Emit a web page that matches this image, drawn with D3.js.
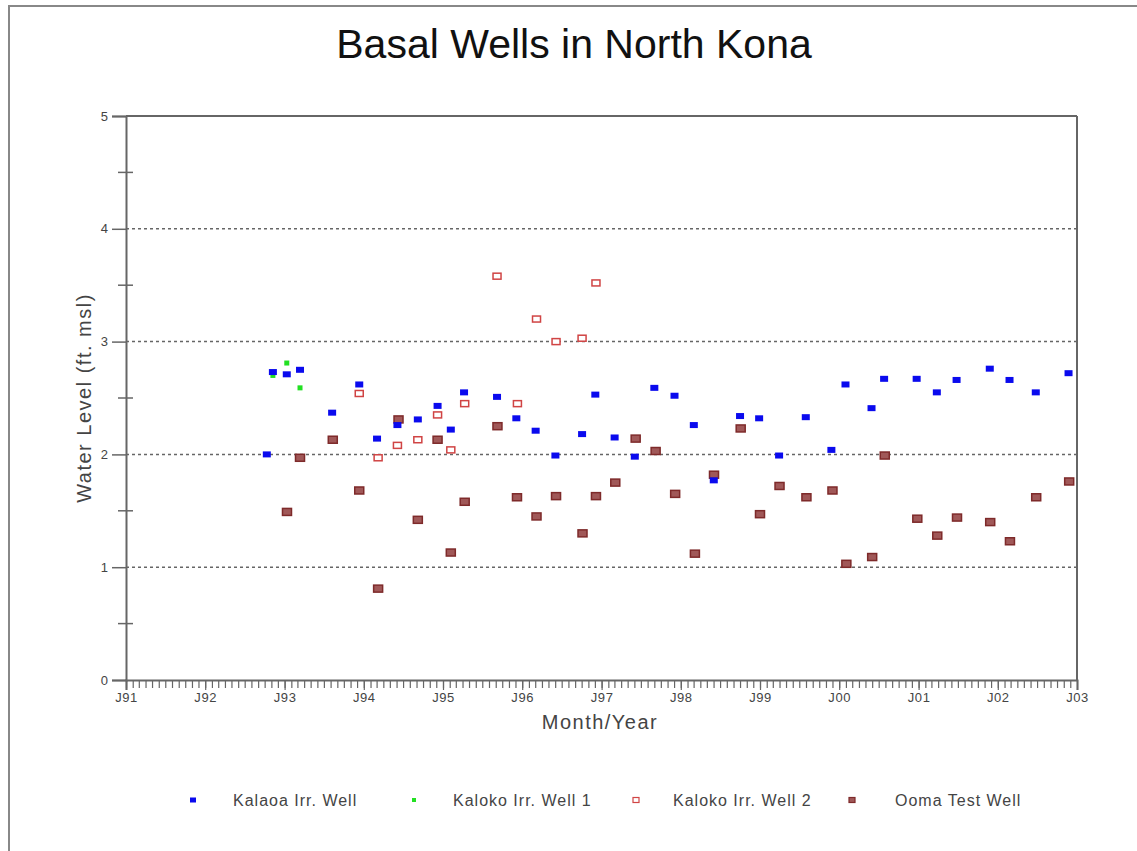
<!DOCTYPE html>
<html>
<head>
<meta charset="utf-8">
<script src="https://cdn.jsdelivr.net/npm/d3@7"></script>
<style>
  body { margin: 0; background: #fff; }
  svg { display: block; font-family: "Liberation Sans", Arial, sans-serif; }
</style>
</head>
<body>
<svg id="chart" width="1137" height="851"></svg>
<script>
// ---- data ----
const seriesNames = ["Kalaoa Irr. Well", "Kaloko Irr. Well 1", "Kaloko Irr. Well 2", "Ooma Test Well"];

const kalaoaDates = ["1992-10-11","1992-11-08","1993-01-11","1993-03-13","1993-08-08","1993-12-11","1994-03-03","1994-06-05","1994-09-07","1994-12-07","1995-02-06","1995-04-08","1995-09-07","1995-12-05","1996-03-03","1996-06-02","1996-10-03","1996-12-03","1997-03-02","1997-06-03","1997-09-01","1997-12-03","1998-03-02","1998-06-02","1998-10-01","1998-12-28","1999-03-30","1999-07-31","1999-11-26","2000-01-30","2000-05-29","2000-07-26","2000-12-23","2001-03-26","2001-06-25","2001-11-25","2002-02-24","2002-06-25","2002-11-23"];
const kalaoaValues = [2.00,2.73,2.71,2.75,2.37,2.62,2.14,2.26,2.31,2.43,2.22,2.55,2.51,2.32,2.21,1.99,2.18,2.53,2.15,1.98,2.59,2.52,2.26,1.77,2.34,2.32,1.99,2.33,2.04,2.62,2.41,2.67,2.67,2.55,2.66,2.76,2.66,2.55,2.72];

const kaloko1Dates = ["1992-11-08","1993-01-11","1993-03-13"];
const kaloko1Values = [2.70,2.81,2.59];

const kaloko2Dates = ["1993-12-11","1994-03-08","1994-06-05","1994-09-07","1994-12-07","1995-02-06","1995-04-11","1995-09-07","1995-12-10","1996-03-07","1996-06-05","1996-10-03","1996-12-06"];
const kaloko2Values = [2.54,1.97,2.08,2.13,2.35,2.04,2.45,3.58,2.45,3.20,3.00,3.03,3.52];

const oomaDates = ["1993-01-12","1993-03-13","1993-08-11","1993-12-11","1994-03-08","1994-06-10","1994-09-07","1994-12-07","1995-02-06","1995-04-11","1995-09-09","1995-12-08","1996-03-07","1996-06-05","1996-10-05","1996-12-06","1997-03-05","1997-06-07","1997-09-07","1997-12-06","1998-03-07","1998-06-03","1998-10-04","1999-01-01","1999-04-01","1999-08-03","1999-12-01","2000-02-03","2000-06-01","2000-07-29","2000-12-26","2001-03-28","2001-06-27","2001-11-27","2002-02-26","2002-06-27","2002-11-26"];
const oomaValues = [1.49,1.97,2.13,1.68,0.81,2.31,1.42,2.13,1.13,1.58,2.25,1.62,1.45,1.63,1.30,1.63,1.75,2.14,2.03,1.65,1.12,1.82,2.23,1.47,1.72,1.62,1.68,1.03,1.09,1.99,1.43,1.28,1.44,1.40,1.23,1.62,1.76];

const yTicks = [0,1,2,3,4,5];
const yMinorTicks = [0.5,1.5,2.5,3.5,4.5];
const gridValues = [1,2,3,4];
const xDomain = ["1991-01-01","2003-01-01"];

// ---- setup ----
const parse = d3.timeParse("%Y-%m-%d");
const svg = d3.select("#chart");
const mLeft = 126, mRight = 1077, mTop = 116, mBottom = 680;

const x = d3.scaleTime().domain(xDomain.map(parse)).range([mLeft, mRight]);
const y = d3.scaleLinear().domain([0,5]).range([mBottom, mTop]);

// outer frame lines
svg.append("line").attr("x1", 9).attr("x2", 1137).attr("y1", 6).attr("y2", 6)
  .attr("stroke", "#888").attr("stroke-width", 2);
svg.append("line").attr("x1", 9).attr("x2", 9).attr("y1", 5).attr("y2", 851)
  .attr("stroke", "#888").attr("stroke-width", 2);

// title
svg.append("text").attr("x", 574).attr("y", 58).attr("text-anchor", "middle")
  .attr("font-size", 41).attr("fill", "#111").text("Basal Wells in North Kona");

// gridlines
svg.append("g").selectAll("line").data(gridValues).join("line")
  .attr("x1", mLeft).attr("x2", mRight)
  .attr("y1", d => y(d)).attr("y2", d => y(d))
  .attr("stroke", "#666").attr("stroke-width", 1.5).attr("stroke-dasharray", "3,3");

// plot box top/right
svg.append("line").attr("x1", mLeft).attr("x2", mRight).attr("y1", mTop).attr("y2", mTop)
  .attr("stroke", "#666").attr("stroke-width", 2);
svg.append("line").attr("x1", mRight).attr("x2", mRight).attr("y1", mTop).attr("y2", mBottom)
  .attr("stroke", "#666").attr("stroke-width", 2);

// y axis
const yAxis = svg.append("g").attr("transform", `translate(${mLeft},0)`)
  .call(d3.axisLeft(y).tickValues(yTicks).tickSize(14).tickPadding(4).tickFormat(d3.format("d")));
yAxis.select(".domain").attr("stroke", "#666").attr("stroke-width", 2);
yAxis.selectAll(".tick line").attr("stroke", "#666").attr("stroke-width", 1.5);
yAxis.selectAll(".tick text").attr("font-size", 13).attr("fill", "#444")
  .attr("font-family", "Liberation Sans, Arial, sans-serif");
svg.append("g").selectAll("line").data(yMinorTicks).join("line")
  .attr("x1", mLeft - 8).attr("x2", mLeft + 7)
  .attr("y1", d => y(d)).attr("y2", d => y(d))
  .attr("stroke", "#666").attr("stroke-width", 1.5);

// x axis minor (monthly)
const months = d3.timeMonth.range(parse(xDomain[0]), parse(xDomain[1]));
const xMinor = svg.append("g").attr("transform", `translate(0,${mBottom})`)
  .call(d3.axisBottom(x).tickValues(months).tickSize(8).tickFormat(""));
xMinor.select(".domain").remove();
xMinor.selectAll(".tick line").attr("stroke", "#666").attr("stroke-width", 1.2);

// x axis major (yearly)
const years = d3.timeYear.range(parse(xDomain[0]), d3.timeDay.offset(parse(xDomain[1]), 1));
const xMajor = svg.append("g").attr("transform", `translate(0,${mBottom})`)
  .call(d3.axisBottom(x).tickValues(years).tickSize(10).tickPadding(3)
    .tickFormat(d => "J" + d3.timeFormat("%y")(d)));
xMajor.select(".domain").attr("stroke", "#666").attr("stroke-width", 2);
xMajor.selectAll(".tick line").attr("stroke", "#666").attr("stroke-width", 1.2);
xMajor.selectAll(".tick text").attr("font-size", 13).attr("fill", "#444")
  .attr("letter-spacing", 0.6)
  .attr("font-family", "Liberation Sans, Arial, sans-serif");

// axis titles
svg.append("text").attr("x", 600).attr("y", 729).attr("text-anchor", "middle")
  .attr("font-size", 20).attr("letter-spacing", 1.5).attr("fill", "#444").text("Month/Year");
svg.append("text").attr("transform", "translate(91,398) rotate(-90)").attr("text-anchor", "middle")
  .attr("font-size", 20).attr("letter-spacing", 1.5).attr("fill", "#444").text("Water Level (ft. msl)");

// series
const toPoints = (dates, vals) => dates.map((d, i) => ({ date: parse(d), value: vals[i] }));

const styles = [
  { w: 8, h: 6, fill: "#0a0aee", stroke: "none", sw: 0 },      // Kalaoa
  { w: 5, h: 5, fill: "#22e022", stroke: "none", sw: 0 },      // Kaloko 1
  { w: 8, h: 6, fill: "#fff", stroke: "#d04444", sw: 1.5 },   // Kaloko 2
  { w: 9, h: 7, fill: "#a05858", stroke: "#7e2a2a", sw: 1.5 } // Ooma
];

const seriesData = [
  toPoints(kalaoaDates, kalaoaValues),
  toPoints(kaloko1Dates, kaloko1Values),
  toPoints(kaloko2Dates, kaloko2Values),
  toPoints(oomaDates, oomaValues)
];

const drawOrder = [3, 2, 1, 0];
drawOrder.forEach(si => {
  const s = styles[si];
  svg.append("g").selectAll("rect").data(seriesData[si]).join("rect")
    .attr("x", d => x(d.date) - s.w / 2).attr("y", d => y(d.value) - s.h / 2)
    .attr("width", s.w).attr("height", s.h)
    .attr("fill", s.fill).attr("stroke", s.stroke).attr("stroke-width", s.sw);
});

// legend
const legendItems = [
  { mx: 193, tx: 233 },
  { mx: 414, tx: 453 },
  { mx: 636, tx: 673 },
  { mx: 852, tx: 895 }
];
const legendY = 800;
const lg = svg.append("g");
seriesNames.forEach((name, i) => {
  const s = styles[i];
  const it = legendItems[i];
  const mw = i === 1 ? 4 : 6, mh = i === 1 ? 4 : 5;
  lg.append("rect").attr("x", it.mx - mw / 2).attr("y", legendY - mh / 2)
    .attr("width", mw).attr("height", mh)
    .attr("fill", s.fill).attr("stroke", s.stroke).attr("stroke-width", s.sw ? 1.2 : 0);
  lg.append("text").attr("x", it.tx).attr("y", legendY + 6)
    .attr("font-size", 16).attr("letter-spacing", 1).attr("fill", "#444").text(name);
});
</script>
</body>
</html>
